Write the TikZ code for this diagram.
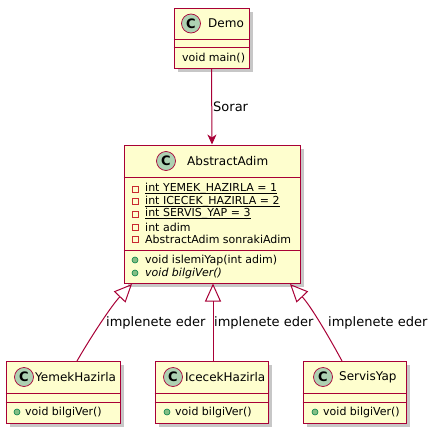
\documentclass[tikz,border=0pt]{standalone}
\usepackage{fontspec}
\setmainfont{DejaVu Sans}
\usetikzlibrary{
    arrows.meta,
    shadows,
    positioning
}
\definecolor{umlfill}{HTML}{FEFECE}
\definecolor{umlred}{HTML}{A80036}
\definecolor{umlcircle}{HTML}{ADD1B2}
\definecolor{privred}{HTML}{C82930}
\definecolor{pubgreen}{HTML}{84BE84}
\definecolor{publine}{HTML}{038048}

\begin{document}
\begin{tikzpicture}[x=1pt, y=-1pt,
        classbox/.style={rectangle, draw=umlred, fill=umlfill, line width=1pt, inner sep=0pt,
            drop shadow={shadow xshift=4pt, shadow yshift=-4pt, fill=black, opacity=0.22}},
        sepline/.style={draw=umlred, line width=1pt},
        classmark/.style={circle, draw=umlred, fill=umlcircle, line width=0.7pt, minimum size=19pt,
            inner sep=0pt, font=\fontsize{13}{13}\selectfont\bfseries},
        title/.style={anchor=west, inner sep=0pt, font=\fontsize{12}{14}\selectfont},
        member/.style={anchor=west, inner sep=0pt, font=\fontsize{11}{13}\selectfont},
        staticline/.style={draw=black, line width=0.6pt},
        privmark/.style={rectangle, draw=privred, line width=0.8pt, minimum size=6pt, inner sep=0pt},
        pubmark/.style={circle, draw=publine, fill=pubgreen, line width=0.6pt, minimum size=6pt, inner sep=0pt},
        edgelabel/.style={anchor=west, inner sep=0pt, font=\fontsize{13}{15}\selectfont},
        uses/.style={draw=umlred, line width=1pt, -{Stealth[length=10pt, width=9pt, inset=3pt]}},
        realizes/.style={draw=umlred, line width=1pt, -{Triangle[open, length=18pt, width=16pt]}}]

    \useasboundingbox (0,0) rectangle (436,431);

    % Demo
    \node[classbox, minimum width=75pt, minimum height=60pt] (demo) at (211.5,38) {};
    \draw[sepline] (demo.west |- 0,39) -- (demo.east |- 0,39);
    \draw[sepline] (demo.west |- 0,47) -- (demo.east |- 0,47);
    \node[classmark] (demoC) at (191,23.5) {C};
    \node[title] (demoT) at (208,23.5) {Demo};
    \node[member] (demoM) at (182,58) {void main()};

    % AbstractAdim
    \node[classbox, minimum width=176pt, minimum height=138pt] (abstractAdim) at (212,214) {};
    \draw[sepline] (abstractAdim.west |- 0,177) -- (abstractAdim.east |- 0,177);
    \draw[sepline] (abstractAdim.west |- 0,250) -- (abstractAdim.east |- 0,250);
    \node[classmark] (absC) at (166,161) {C};
    \node[title] (absT) at (187,161) {AbstractAdim};
    \node[privmark] (absP1) at (135,189) {};
    \node[member] (absA1) at (145,189) {int YEMEK\_HAZIRLA = 1};
    \node[privmark] (absP2) at (135,201.5) {};
    \node[member] (absA2) at (145,201.5) {int ICECEK\_HAZIRLA = 2};
    \node[privmark] (absP3) at (135,214) {};
    \node[member] (absA3) at (145,214) {int SERVIS\_YAP = 3};
    \node[privmark] (absP4) at (135,227) {};
    \node[member] (absA4) at (145,227) {int adim};
    \node[privmark] (absP5) at (135,239) {};
    \node[member] (absA5) at (145,239) {AbstractAdim sonrakiAdim};
    \node[pubmark] (absM1d) at (135,260) {};
    \node[member] (absM1) at (145,260) {void islemiYap(int adim)};
    \node[pubmark] (absM2d) at (135,273) {};
    \node[member] (absM2) at (145,273) {\itshape void bilgiVer()};
    % static alanlar
    \foreach \att in {absA1, absA2, absA3}
        \draw[staticline] ([yshift=-1.6pt]\att.base west) -- ([yshift=-1.6pt]\att.base east);

    % alt siniflar
    \node[classbox, minimum width=114pt, minimum height=62pt] (yemekHazirla) at (63,392) {};
    \node[classbox, minimum width=113pt, minimum height=62pt] (icecekHazirla) at (211.5,392) {};
    \node[classbox, minimum width=103pt, minimum height=62pt] (servisYap) at (354.5,392) {};
    \foreach \cls in {yemekHazirla, icecekHazirla, servisYap} {
        \draw[sepline] (\cls.west |- 0,393) -- (\cls.east |- 0,393);
        \draw[sepline] (\cls.west |- 0,402) -- (\cls.east |- 0,402);
    }
    \node[classmark] (yemekC) at (24,377) {C};
    \node[title] (yemekT) at (35,377) {YemekHazirla};
    \node[pubmark] (yemekMd) at (17,412) {};
    \node[member] (yemekM) at (25,412) {void bilgiVer()};

    \node[classmark] (icecekC) at (173,377) {C};
    \node[title] (icecekT) at (185,377) {IcecekHazirla};
    \node[pubmark] (icecekMd) at (167,412) {};
    \node[member] (icecekM) at (175,412) {void bilgiVer()};

    \node[classmark] (servisC) at (323,377) {C};
    \node[title] (servisT) at (339,377) {ServisYap};
    \node[pubmark] (servisMd) at (315,412) {};
    \node[member] (servisM) at (323,412) {void bilgiVer()};

    % baglantilar
    \coordinate (absTipL) at (132,284);
    \coordinate (absTipR) at (290,284);
    \coordinate (yemekTop) at (77,361);
    \coordinate (servisTop) at (342,361);

    \draw[uses] (demo.south) -- (abstractAdim.north);
    \node[edgelabel] (sorar) at (213,107) {Sorar};

    \draw[realizes] (yemekTop) .. controls (92,335) and (112,305) .. (absTipL);
    \draw[realizes] (icecekHazirla.north -| 213,0) -- (abstractAdim.south -| 213,0);
    \draw[realizes] (servisTop) .. controls (328,335) and (310,305) .. (absTipR);

    \node[edgelabel] (lblL) at (106,323) {implenete eder};
    \node[edgelabel] (lblM) at (214,323) {implenete eder};
    \node[edgelabel] (lblR) at (328,323) {implenete eder};
\end{tikzpicture}
\end{document}
